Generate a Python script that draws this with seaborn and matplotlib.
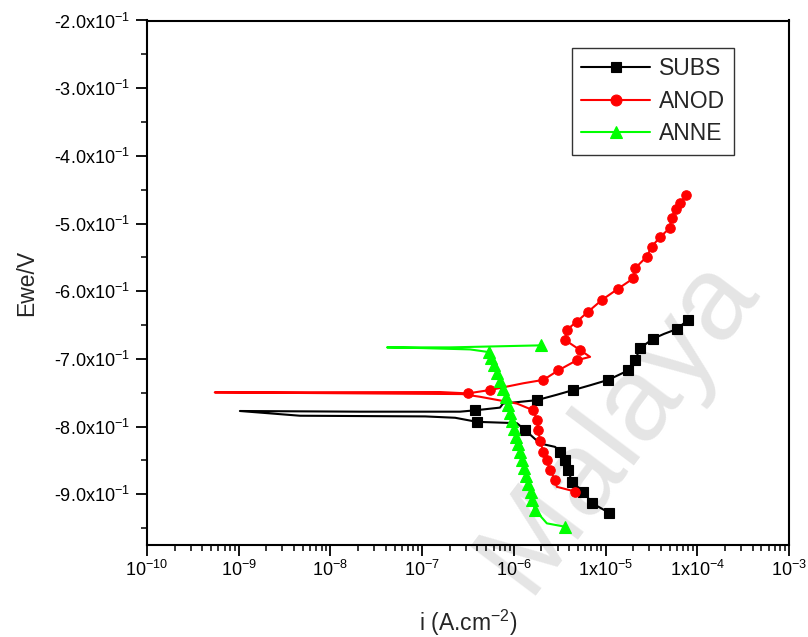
import matplotlib
matplotlib.use("Agg")
import matplotlib.pyplot as plt
import seaborn as sns
from matplotlib.ticker import LogLocator, MultipleLocator, NullFormatter

# Potentiodynamic polarisation data, listed in scan order
# current density i (A.cm^-2) and potential Ewe (V)
subs_i = [1.08e-5, 7.08e-6, 5.73e-6, 4.28e-6, 3.93e-6, 3.61e-6, 3.19e-6, 2.81e-6,
          1.93e-6, 1.32e-6, 1.08e-6, 3.94e-7, 2.29e-7, 1.08e-7, 4.66e-9, 1.03e-9,
          2.10e-8, 2.59e-7, 3.78e-7, 7.06e-7, 7.62e-7, 1.78e-6, 2.94e-6, 4.46e-6,
          6.78e-6, 1.07e-5, 1.77e-5, 2.10e-5, 2.38e-5, 3.32e-5, 4.35e-5, 5.97e-5,
          8.00e-5]
subs_e = [-0.927, -0.913, -0.896, -0.882, -0.864, -0.850, -0.837, -0.830,
          -0.825, -0.805, -0.795, -0.793, -0.787, -0.785, -0.784, -0.777,
          -0.778, -0.778, -0.776, -0.772, -0.766, -0.761, -0.753, -0.746,
          -0.739, -0.731, -0.717, -0.702, -0.684, -0.670, -0.663, -0.656,
          -0.642]
subs_marks = [0, 1, 2, 3, 4, 5, 6, 9, 11, 18, 21, 23, 25, 26, 27, 28, 29, 31, 32]

anod_i = [4.65e-6, 2.94e-6, 2.81e-6, 2.48e-6, 2.29e-6, 2.10e-6, 1.93e-6, 1.85e-6,
          1.78e-6, 1.63e-6, 1.08e-6, 4.28e-7, 2.72e-7, 5.48e-10, 1.57e-7, 3.14e-7,
          5.49e-7, 1.27e-6, 2.10e-6, 3.05e-6, 4.85e-6, 6.78e-6, 5.27e-6, 3.61e-6,
          3.78e-6, 4.85e-6, 6.49e-6, 9.10e-6, 1.38e-5, 2.01e-5, 2.10e-5, 2.81e-5,
          3.19e-5, 3.93e-5, 4.98e-5, 5.25e-5, 5.83e-5, 6.49e-5, 7.55e-5]
anod_e = [-0.896, -0.889, -0.879, -0.864, -0.850, -0.837, -0.822, -0.805,
          -0.790, -0.776, -0.766, -0.756, -0.752, -0.7495, -0.749, -0.751,
          -0.746, -0.736, -0.731, -0.717, -0.702, -0.697, -0.687, -0.672,
          -0.657, -0.645, -0.630, -0.613, -0.596, -0.581, -0.566, -0.549,
          -0.534, -0.520, -0.507, -0.492, -0.478, -0.470, -0.458]
anod_marks = [0, 2, 3, 4, 5, 6, 7, 8, 9, 15, 16, 18, 19, 20, 22, 23, 24, 25, 26,
              27, 28, 29, 30, 31, 32, 33, 34, 35, 36, 37, 38]

anne_i = [3.61e-6, 2.29e-6, 1.70e-6, 1.58e-6, 1.53e-6, 1.43e-6, 1.37e-6, 1.29e-6,
          1.23e-6, 1.17e-6, 1.11e-6, 1.06e-6, 1.00e-6, 9.55e-7, 9.10e-7, 8.65e-7,
          8.22e-7, 7.62e-7, 7.06e-7, 6.56e-7, 6.08e-7, 5.64e-7, 5.36e-7, 3.33e-7,
          9.84e-8, 4.14e-8, 2.01e-7, 1.98e-6]
anne_e = [-0.948, -0.943, -0.923, -0.909, -0.896, -0.885, -0.873, -0.861,
          -0.849, -0.838, -0.826, -0.816, -0.804, -0.792, -0.780, -0.768,
          -0.756, -0.745, -0.733, -0.721, -0.709, -0.699, -0.690, -0.686,
          -0.684, -0.683, -0.683, -0.680]
anne_marks = [0] + list(range(2, 23)) + [27]

series_names = ["SUBS", "ANOD", "ANNE"]

x_ticks = [1e-10, 1e-9, 1e-8, 1e-7, 1e-6, 1e-5, 1e-4, 1e-3]
x_tick_labels = [r"$10^{-10}$", r"$10^{-9}$", r"$10^{-8}$", r"$10^{-7}$",
                 r"$10^{-6}$", r"$1x10^{-5}$", r"$1x10^{-4}$", r"$10^{-3}$"]
y_ticks = [-0.2, -0.3, -0.4, -0.5, -0.6, -0.7, -0.8, -0.9]
y_tick_labels = [r"-2.0x10$^{-1}$", r"-3.0x10$^{-1}$", r"-4.0x10$^{-1}$",
                 r"-5.0x10$^{-1}$", r"-6.0x10$^{-1}$", r"-7.0x10$^{-1}$",
                 r"-8.0x10$^{-1}$", r"-9.0x10$^{-1}$"]

sns.set_style("ticks")
plt.rcParams["font.family"] = ["Liberation Sans", "DejaVu Sans"]
plt.rcParams["mathtext.fontset"] = "custom"
plt.rcParams["mathtext.rm"] = "Liberation Sans"
plt.rcParams["mathtext.it"] = "Liberation Sans"
plt.rcParams["mathtext.default"] = "regular"

fig = plt.figure(figsize=(8.08, 6.37), dpi=100)
fig.patch.set_facecolor("white")
ax = fig.add_axes([147 / 808, 1 - 545 / 637, 642 / 808, 524.5 / 637])
ax.set_facecolor("none")
ax.set_xscale("log")

# repository watermark behind the plot
fig.text(0.765, 0.335, "Malaya", rotation=53, fontsize=86, color="#e5e5e5",
         ha="center", va="center", zorder=-1)

styles = [
    (subs_i, subs_e, subs_marks, "#000000", "s", 6.5),
    (anod_i, anod_e, anod_marks, "#ff0000", "o", 6.8),
    (anne_i, anne_e, anne_marks, "#00ff00", "^", 8.0),
]
for name, (xi, ye, marks, col, mk, ms) in zip(series_names, styles):
    sns.lineplot(x=xi, y=ye, sort=False, estimator=None, color=col, lw=1.5,
                 marker=mk, markersize=ms, markevery=marks,
                 markeredgecolor=col, markerfacecolor=col, markeredgewidth=0.8,
                 label=name, ax=ax)

ax.set_xlim(1e-10, 1e-3)
ax.set_ylim(-0.975, -0.2)

ax.set_xticks(x_ticks, x_tick_labels)
ax.xaxis.set_minor_locator(LogLocator(base=10, subs=range(2, 10), numticks=20))
ax.xaxis.set_minor_formatter(NullFormatter())
ax.set_yticks(y_ticks, y_tick_labels)
ax.yaxis.set_minor_locator(MultipleLocator(0.05))

for sp in ax.spines.values():
    sp.set_visible(True)
    sp.set_linewidth(1.5)
    sp.set_color("black")

ax.tick_params(axis="both", which="major", direction="out", length=8, width=1.3,
               labelsize=13, colors="black", top=False, right=False)
ax.tick_params(axis="both", which="minor", direction="out", length=4.5, width=1.3,
               top=False, right=False)
ax.tick_params(axis="y", which="major", pad=4)
ax.tick_params(axis="x", which="major", pad=3)

ax.set_ylabel("Ewe/V", fontsize=16.5)
ax.yaxis.set_label_coords(-0.17, 0.5)
ax.set_xlabel(r"i (A.cm$^{-2}$)", fontsize=16.5)
ax.xaxis.set_label_coords(0.5, -0.12)

leg = ax.legend(loc="upper left", bbox_to_anchor=(572 / 808, 1 - 48 / 637),
                bbox_transform=fig.transFigure, borderaxespad=0, frameon=True,
                fancybox=False, edgecolor="#333333", framealpha=1, fontsize=16.5,
                handlelength=3.0, handletextpad=0.4, borderpad=0.4,
                labelspacing=0.42, markerscale=1.15)
leg.get_frame().set_linewidth(1.0)

fig.savefig("out.png", dpi=100, facecolor="white")
